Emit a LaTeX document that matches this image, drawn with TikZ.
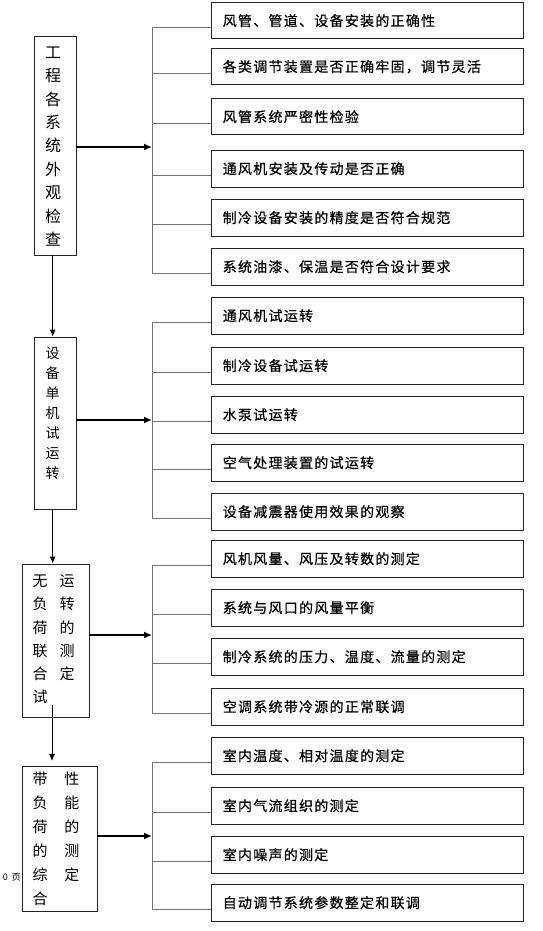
\documentclass[tikz,border=0pt]{standalone}
\usepackage{fontspec}
\newfontfamily\cjk{Noto Sans CJK SC}
\newfontfamily\cjksp[LetterSpace=9,FakeBold=0.6]{Noto Sans CJK SC}
\usetikzlibrary{arrows.meta,calc}
\begin{document}
\begin{tikzpicture}[x=1pt,y=-1pt,
  item/.style={draw=black!85,line width=0.9pt,minimum width=311.4pt,minimum height=36.5pt,
    text width=289.4pt,inner xsep=11pt,inner ysep=0pt,align=left,anchor=north west,
    font=\cjksp\fontsize{14}{16}\selectfont},
  mainbox/.style={draw=black!85,line width=0.9pt,inner sep=0pt},
  vtext/.style={inner sep=0pt,align=center},
  brk/.style={draw=black!55,line width=1pt},
  flow/.style={draw=black,line width=1.5pt,-{Latex[length=8pt,width=7pt]}},
  down/.style={draw=black,line width=0.9pt,-{Latex[length=7pt,width=6pt]}}]
\useasboundingbox (0,0) rectangle (542,931);

% ---------- right-hand item boxes ----------
\node[item] (a1) at (211.3,2)   {风管、管道、设备安装的正确性};
\node[item] (a2) at (211.3,48)  {各类调节装置是否正确牢固，调节灵活};
\node[item] (a3) at (211.3,98)  {风管系统严密性检验};
\node[item] (a4) at (211.3,150) {通风机安装及传动是否正确};
\node[item] (a5) at (211.3,199) {制冷设备安装的精度是否符合规范};
\node[item] (a6) at (211.3,248) {系统油漆、保温是否符合设计要求};

\node[item] (b1) at (211.3,297) {通风机试运转};
\node[item] (b2) at (211.3,347) {制冷设备试运转};
\node[item] (b3) at (211.3,396) {水泵试运转};
\node[item] (b4) at (211.3,444) {空气处理装置的试运转};
\node[item] (b5) at (211.3,493) {设备减震器使用效果的观察};

\node[item] (c1) at (211.3,540) {风机风量、风压及转数的测定};
\node[item] (c2) at (211.3,589) {系统与风口的风量平衡};
\node[item] (c3) at (211.3,638) {制冷系统的压力、温度、流量的测定};
\node[item] (c4) at (211.3,688) {空调系统带冷源的正常联调};

\node[item] (d1) at (211.3,737) {室内温度、相对温度的测定};
\node[item] (d2) at (211.3,787) {室内气流组织的测定};
\node[item] (d3) at (211.3,836) {室内噪声的测定};
\node[item] (d4) at (211.3,884) {自动调节系统参数整定和联调};

% ---------- left-hand stage boxes ----------
\node[mainbox,minimum width=42pt,minimum height=219pt] (m1) at (55,145.5) {};
\node[mainbox,minimum width=42pt,minimum height=172pt] (m2) at (55,423) {};
\node[mainbox,minimum width=67pt,minimum height=153pt] (m3) at (55.5,640.5) {};
\node[mainbox,minimum width=75pt,minimum height=145pt] (m4) at (59.5,838.5) {};

\node[vtext,font=\cjk\fontsize{16}{23.4}\selectfont] (t1) at (53,146.5)
  {工\\程\\各\\系\\统\\外\\观\\检\\查};
\node[vtext,font=\cjk\fontsize{14}{20}\selectfont] (t2) at (52.5,413)
  {设\\备\\单\\机\\试\\运\\转};
\node[vtext,font=\cjk\fontsize{15}{23.2}\selectfont] (t3) at (53.5,640)
  {\begin{tabular}{@{}c@{\hspace{12pt}}c@{}}无&运\\负&转\\荷&的\\联&测\\合&定\\试&\end{tabular}};
\node[vtext,font=\cjk\fontsize{15}{24}\selectfont] (t4) at (56,840)
  {\begin{tabular}{@{}c@{\hspace{17pt}}c@{}}带&性\\负&能\\荷&的\\的&测\\综&定\\合&\end{tabular}};

\node[inner sep=0pt,anchor=east,font=\cjk\fontsize{9}{10}\selectfont] (pg) at (21,877) {0\hspace{4pt}页};

% ---------- brackets ----------
\coordinate (g1) at (152,147);
\coordinate (g2) at (152,420);
\coordinate (g3) at (152,635);
\coordinate (g4) at (152,836);

\foreach \n in {1,...,6}{\path ($(a\n.west)+(0,7)$) coordinate (pa\n);}
\foreach \n in {1,...,5}{\path ($(b\n.west)+(0,7)$) coordinate (pb\n);}
\foreach \n in {1,...,4}{\path ($(c\n.west)+(0,7)$) coordinate (pc\n);}
\foreach \n in {1,...,4}{\path ($(d\n.west)+(0,7)$) coordinate (pd\n);}

\foreach \n in {1,...,6}{\draw[brk] (g1 |- pa\n) -- (pa\n);}
\draw[brk] (g1 |- pa1) -- (g1 |- pa6);
\foreach \n in {1,...,5}{\draw[brk] (g2 |- pb\n) -- (pb\n);}
\draw[brk] (g2 |- pb1) -- (g2 |- pb5);
\foreach \n in {1,...,4}{\draw[brk] (g3 |- pc\n) -- (pc\n);}
\draw[brk] (g3 |- pc1) -- (g3 |- pc4);
\foreach \n in {1,...,4}{\draw[brk] (g4 |- pd\n) -- (pd\n);}
\draw[brk] (g4 |- pd1) -- (g4 |- pd4);

\draw[flow] (m1.east |- g1) -- (g1);
\draw[flow] (m2.east |- g2) -- (g2);
\draw[flow] (m3.east |- g3) -- (g3);
\draw[flow] (m4.east |- g4) -- (g4);

% ---------- vertical flow ----------
\coordinate (colx) at (52.7,0);
\draw[down] (m1.south -| colx) -- (m2.north -| colx);
\draw[down] (m2.south -| colx) -- (m3.north -| colx);
\coordinate (s34) at (52,705);
\coordinate (e34) at (52,761);
\draw[down] (s34) -- (e34);
\end{tikzpicture}
\end{document}
